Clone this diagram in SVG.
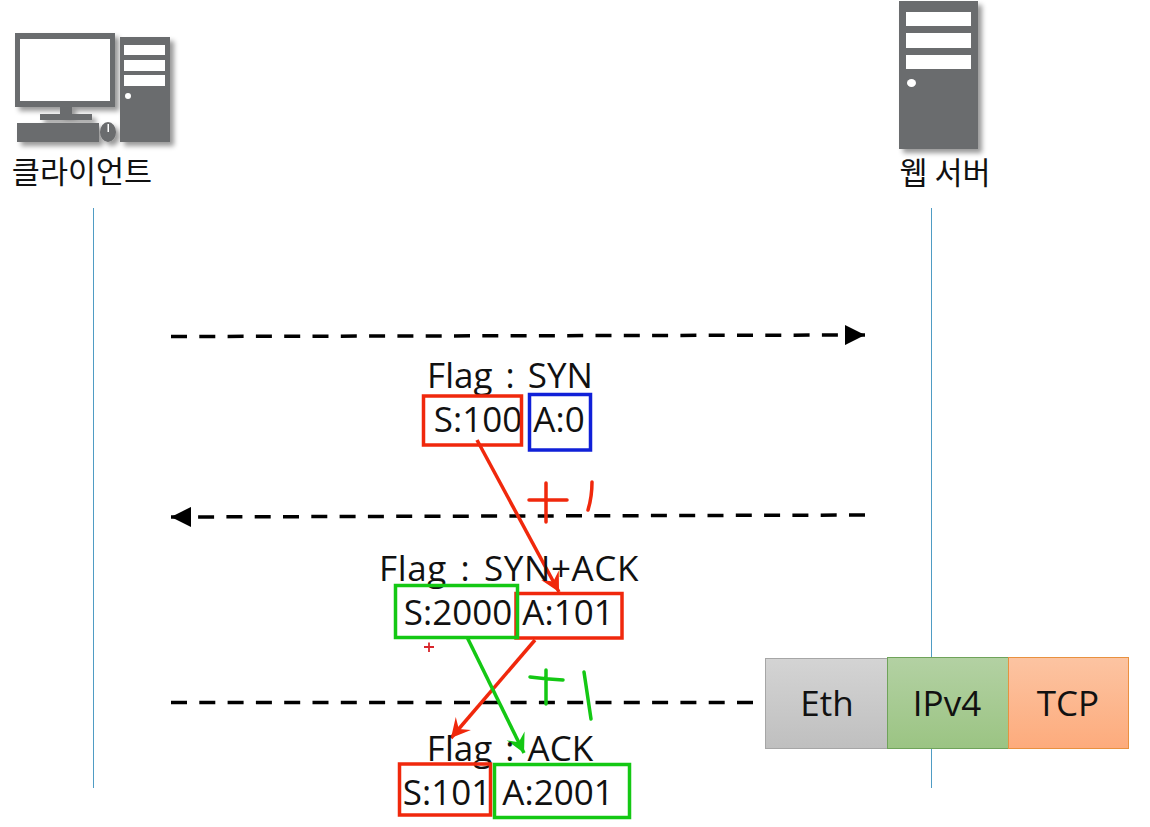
<svg xmlns="http://www.w3.org/2000/svg" width="1150" height="827" viewBox="0 0 1150 827">
<style>
.g{fill:#6b6c6e}.w{fill:#fff}
.t{font-family:"Open Sans","Noto Sans CJK KR",sans-serif;font-size:35px;fill:#111;text-anchor:middle}
.f{word-spacing:4px}
.k{font-family:"Noto Sans CJK KR",sans-serif;font-size:30.500px;fill:#111;text-anchor:middle}
.life{stroke:#4f9cc4;stroke-width:1;fill:none}
.msg{stroke:#000;stroke-width:3.500;stroke-dasharray:16 12.300;fill:none}
.r{fill:none;stroke:#f0280c;stroke-width:3.500}
.gb{fill:none;stroke:#14c814;stroke-width:3.500}
.b{fill:none;stroke:#1020d8;stroke-width:3.500}
.rl{fill:none;stroke:#f0280c;stroke-width:3.500;stroke-linecap:round}
.gl{fill:none;stroke:#14c814;stroke-width:3.500;stroke-linecap:round}
</style>
<defs>
<filter id="sh" x="-10%" y="-10%" width="125%" height="125%"><feDropShadow dx="4" dy="4" stdDeviation="2.500" flood-color="#000" flood-opacity="0.4"/></filter>
<linearGradient id="gEth" x1="0" y1="0" x2="0" y2="1"><stop offset="0" stop-color="#d4d4d4"/><stop offset="1" stop-color="#bfbfbf"/></linearGradient>
<linearGradient id="gIp" x1="0" y1="0" x2="0" y2="1"><stop offset="0" stop-color="#b3d1a3"/><stop offset="1" stop-color="#9bc483"/></linearGradient>
<linearGradient id="gTcp" x1="0" y1="0" x2="0" y2="1"><stop offset="0" stop-color="#fcc4a2"/><stop offset="1" stop-color="#fdab7c"/></linearGradient>
<marker id="ah" markerUnits="userSpaceOnUse" markerWidth="20" markerHeight="20" refX="20" refY="10" orient="auto"><path d="M0 0L20 10L0 20Z" fill="#000"/></marker>
<marker id="ar" markerUnits="userSpaceOnUse" markerWidth="24" markerHeight="24" refX="20" refY="12" orient="auto"><path d="M1 2L20 12L1 22L8 12Z" fill="#f0280c"/></marker>
<marker id="ag" markerUnits="userSpaceOnUse" markerWidth="24" markerHeight="24" refX="20" refY="12" orient="auto"><path d="M1 2L20 12L1 22L8 12Z" fill="#14c814"/></marker>
</defs>
<rect width="1150" height="827" fill="#fff"/>
<g id="lifelines">
<path class="life" d="M93.500 208V788"/>
<path class="life" d="M931.500 208V788"/>
</g>
<g id="client">
<g filter="url(#sh)">
<rect class="g" x="15" y="33" width="100" height="74"/>
<rect class="g" x="60" y="107" width="12" height="8"/>
<rect class="g" x="40" y="114" width="52" height="6"/>
<rect class="g" x="17" y="123" width="82" height="19"/>
<ellipse class="g" cx="108" cy="132" rx="8" ry="10"/>
<rect class="g" x="120" y="37" width="50" height="105"/>
</g>
<rect class="w" x="20" y="39" width="90" height="62"/>
<rect class="w" x="107.500" y="124" width="1.500" height="8"/>
<rect class="w" x="124" y="45" width="41" height="10"/>
<rect class="w" x="124" y="60" width="41" height="11"/>
<rect class="w" x="124" y="75" width="41" height="11"/>
<circle class="w" cx="128" cy="96" r="3"/>
<text class="k" x="82" y="183">클라이언트</text>
</g>
<g id="server">
<rect class="g" x="899" y="1" width="79" height="148" filter="url(#sh)"/>
<rect class="w" x="906" y="12" width="65" height="14"/>
<rect class="w" x="906" y="33" width="65" height="15"/>
<rect class="w" x="906" y="55" width="65" height="14"/>
<ellipse class="w" cx="911.500" cy="83" rx="4.500" ry="4"/>
<text class="k" x="945" y="184">웹 서버</text>
</g>
<g id="connectors">
<path class="msg" d="M171 336.500L865 335" marker-end="url(#ah)"/>
<path class="msg" d="M865 515L171 517" marker-end="url(#ah)"/>
<path class="msg" d="M171 702.500H765"/>
<path fill="none" stroke="#f0280c" stroke-width="3.500" d="M477 440L559 592" marker-end="url(#ar)"/>
<path fill="none" stroke="#f0280c" stroke-width="3.500" d="M535 640L451 738" marker-end="url(#ar)"/>
<path fill="none" stroke="#14c814" stroke-width="3.500" d="M467 637L524 753" marker-end="url(#ag)"/>
</g>
<g id="annotations">
<path class="rl" d="M529 500H567M546 483V522"/>
<path class="rl" d="M592 482Q592 497 588 510"/>
<path d="M424 647H434M429 642.500V652" fill="none" stroke="#d8262c" stroke-width="1.800"/>
<path class="gl" d="M530 677Q545 679 563 680M546 670V704"/>
<path class="gl" d="M584 672L591 719"/>
</g>
<g id="syn">
<text class="t f" x="510" y="388">Flag : SYN</text>
<text class="t" x="478" y="432">S:100</text>
<text class="t" x="559" y="432">A:0</text>
<rect class="r" x="423.500" y="396" width="98" height="49"/>
<rect class="b" x="529.500" y="394.500" width="61" height="55.500"/>
</g>
<g id="synack">
<text class="t f" x="509" y="581" letter-spacing="0.600">Flag : SYN+ACK</text>
<text class="t" x="458" y="625">S:2000</text>
<text class="t" x="568" y="625">A:101</text>
<rect class="r" x="516" y="593.500" width="106" height="44.500"/>
<rect class="gb" x="395.500" y="585.500" width="122" height="52"/>
</g>
<g id="ack">
<text class="t f" x="510" y="761">Flag : ACK</text>
<text class="t" x="447" y="805">S:101</text>
<text class="t" x="558" y="805">A:2001</text>
<rect class="r" x="399.500" y="764" width="91" height="51"/>
<rect class="gb" x="494.500" y="764.500" width="135" height="53"/>
</g>
<g id="packet">
<rect x="765.500" y="658.500" width="122" height="90" fill="url(#gEth)" stroke="#a6a6a6" stroke-width="1"/>
<rect x="887.500" y="657.500" width="121" height="91" fill="url(#gIp)" stroke="#6fa35a" stroke-width="1"/>
<rect x="1008.500" y="657.500" width="120" height="91" fill="url(#gTcp)" stroke="#e8913f" stroke-width="1"/>
<text class="t" x="827" y="716">Eth</text>
<text class="t" x="947" y="716">IPv4</text>
<text class="t" x="1068" y="716">TCP</text>
</g>
</svg>
